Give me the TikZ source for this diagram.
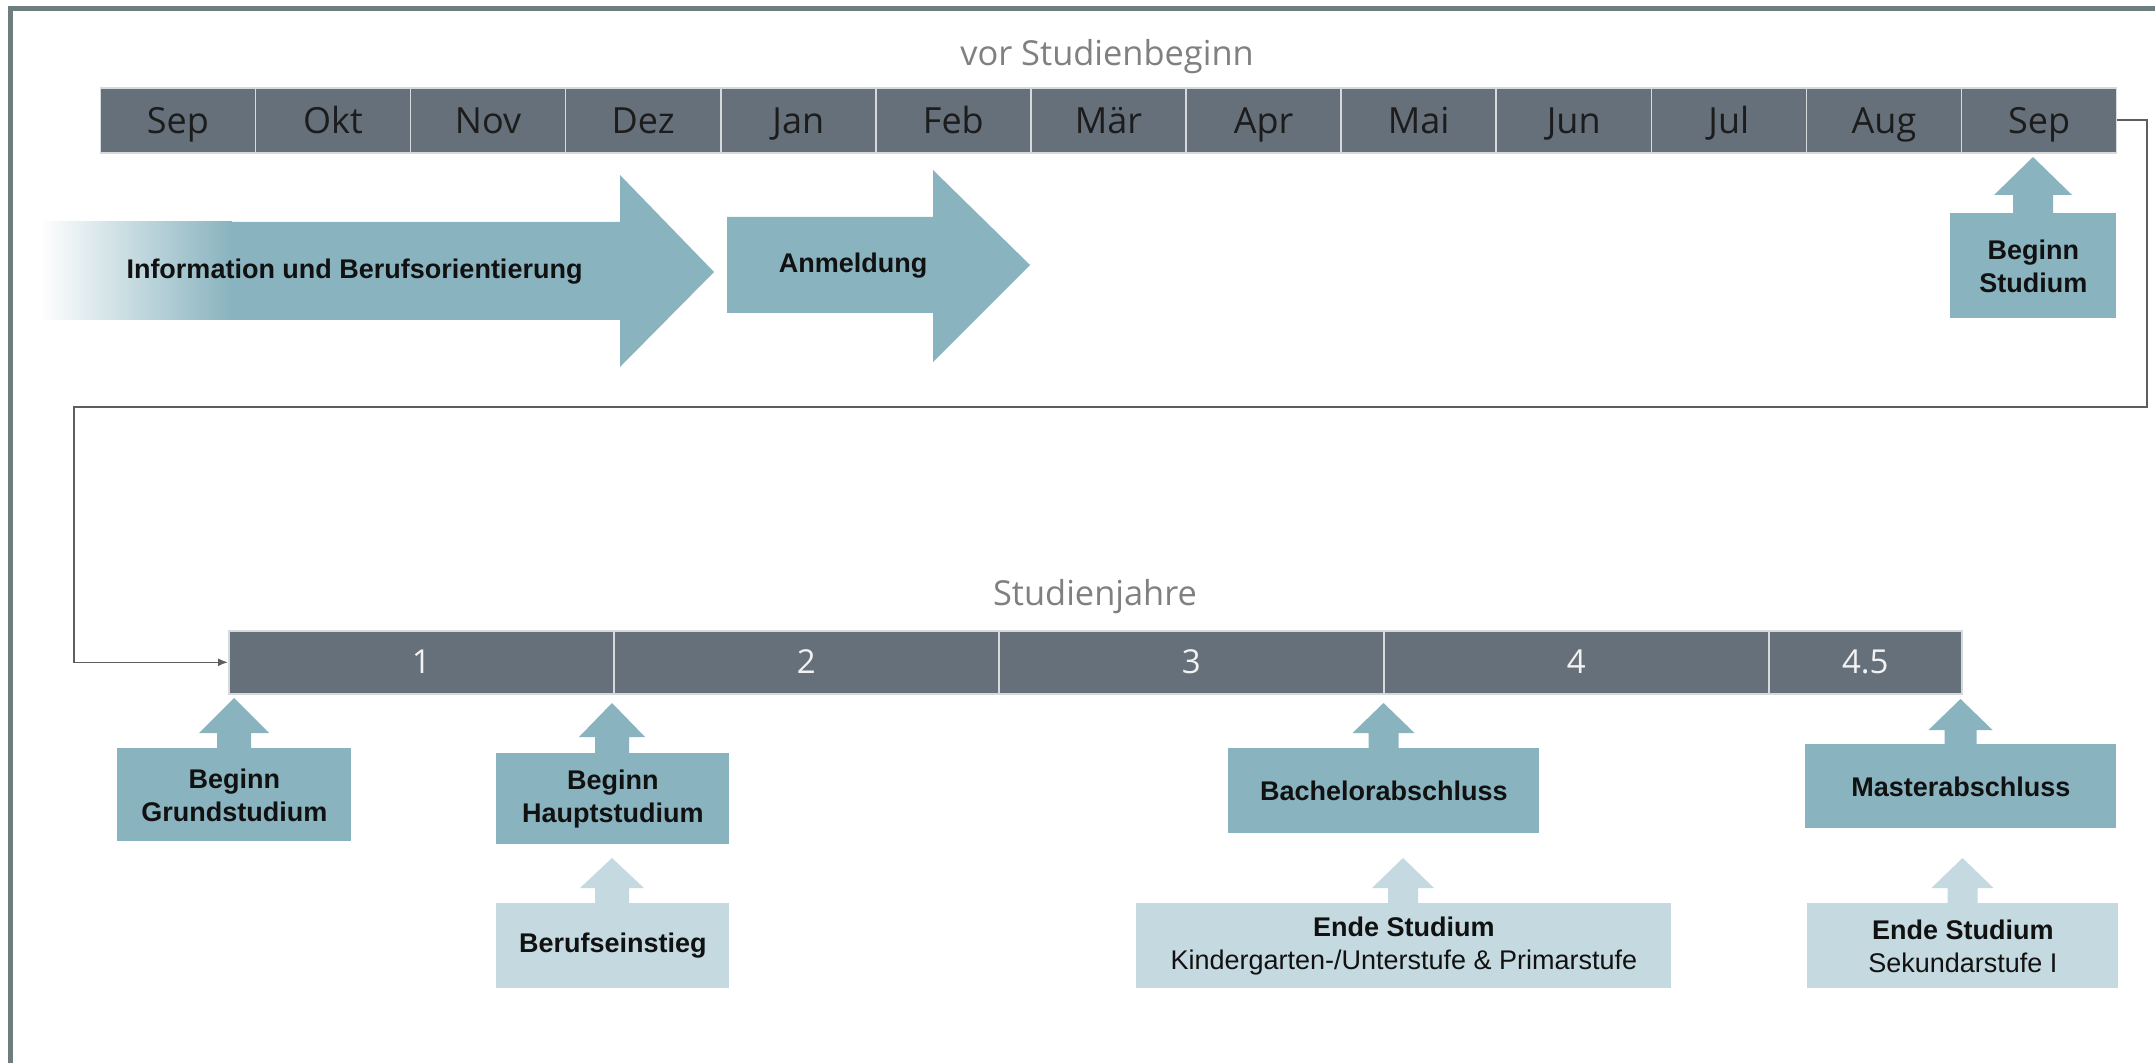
\documentclass[tikz,border=0pt]{standalone}
\usepackage{fontspec}
\setmainfont{Liberation Sans}
\newfontfamily\segoe{Open Sans}
\usetikzlibrary{calc,arrows.meta}
\definecolor{bargrey}{HTML}{66707A}
\definecolor{barline}{HTML}{D6DADD}
\definecolor{tealc}{HTML}{88B3BF}
\definecolor{lightteal}{HTML}{C5DAE0}
\definecolor{framec}{HTML}{6E7E7E}
\definecolor{titlegrey}{HTML}{808080}
\definecolor{monthtext}{HTML}{1C1C1C}
\definecolor{calltext}{HTML}{111111}
\definecolor{connc}{HTML}{5E5E5E}
\newcommand\UpArr[7]{% x, tip y, head base y, bottom y, half head, half stem, colour
  \fill[#7] ({#1-#5},#3) -- (#1,#2) -- ({#1+#5},#3) -- ({#1+#6},#3) -- ({#1+#6},#4)
    -- ({#1-#6},#4) -- ({#1-#6},#3) -- cycle;}
\begin{document}
\begin{tikzpicture}[x=0.5pt,y=-0.5pt,
  month/.style={fill=bargrey, draw=barline, line width=0.8pt, minimum width=77.55pt,
    minimum height=32.5pt, inner sep=0pt, anchor=north west,
    text height=12.8pt, text depth=0pt,
    font=\segoe\fontsize{18}{20}\selectfont, text=monthtext},
  year/.style={fill=bargrey, draw=barline, line width=0.8pt, minimum width=192.5pt,
    minimum height=31.5pt, inner sep=0pt, anchor=north west,
    text height=11.6pt, text depth=0pt,
    font=\segoe\fontsize{16.5}{19}\selectfont, text=white!95!black},
  title/.style={font=\segoe\fontsize{17.2}{19}\selectfont, text=titlegrey, inner sep=0pt},
  callout/.style={fill=tealc, inner sep=0pt, align=center, anchor=north west,
    font=\bfseries\fontsize{13.5}{16.5}\selectfont, text=calltext},
  lightcall/.style={callout, fill=lightteal},
  arrowtext/.style={font=\bfseries\fontsize{13.5}{16.5}\selectfont, text=calltext, inner sep=0pt},
  conn/.style={draw=connc, line width=0.8pt},
]
\useasboundingbox (0,0) rectangle (2155,1063);
\fill[white] (0,0) rectangle (2155,1063);
% frame (top and left edges visible)
\draw[framec, line width=2.5pt] (10,1070) -- (10,9) -- (2160,9);

% ---------- top: months ----------
\node[title] (t1) at (1107,57) {vor Studienbeginn};
\foreach \m [count=\i] in {Sep,Okt,Nov,Dez,Jan,Feb,Mär,Apr,Mai,Jun,Jul,Aug,Sep}
  \node[month] (m\i) at ({99.5+155.1*(\i-1)},87) {\m};

% Information arrow
\fill[tealc] (41,222) -- (620,222) -- (620,175) -- (714,272) -- (620,367) -- (620,320) -- (41,320) -- cycle;
\shade[left color=white, right color=tealc] (40,222) rectangle (232,320);
\node[arrowtext] (info) at (354.5,272) {Information und Berufsorientierung};

% Anmeldung arrow
\fill[tealc] (727,217) -- (933,217) -- (933,170) -- (1030,265) -- (933,362) -- (933,313) -- (727,313) -- cycle;
\node[arrowtext] (anm) at (853,266) {Anmeldung};

% Beginn Studium
\node[callout, minimum width=83pt, minimum height=52.5pt] (bst) at (1950,213) {Beginn\\Studium};
\UpArr{2033}{157}{195}{214}{39}{20}{tealc}

% ---------- connector ----------
\coordinate (c1) at (2147,407);
\coordinate (c2) at (74,407);

% ---------- bottom: years ----------
\node[title] (t2) at (1095,597) {Studienjahre};
\node[year] (y1) at (228,630) {1};
\node[year] (y2) at (613,630) {2};
\node[year] (y3) at (998,630) {3};
\node[year] (y4) at (1383,630) {4};
\node[year, minimum width=96.5pt] (y5) at (1768,630) {4.5};

\draw[conn, -{Latex[length=5pt,width=4pt]}] (m13.east) -| (c1) -- (c2) |- (y1.west);

% callouts
\node[callout, minimum width=117pt, minimum height=46.5pt] (bg) at (117,748) {Beginn\\Grundstudium};
\UpArr{234}{698}{733}{749}{35}{17}{tealc}

\node[callout, minimum width=116.5pt, minimum height=45.5pt] (bh) at (496,753) {Beginn\\Hauptstudium};
\UpArr{612}{703}{737}{754}{33}{17}{tealc}

\node[lightcall, minimum width=116.5pt, minimum height=42.5pt] (be) at (496,903) {Berufseinstieg};
\UpArr{612}{858}{888}{904}{32}{17}{lightteal}

\node[callout, minimum width=155.5pt, minimum height=42.5pt] (ba) at (1228,748) {Bachelorabschluss};
\UpArr{1383.5}{703}{733}{749}{31}{15}{tealc}

\node[lightcall, minimum width=267.5pt, minimum height=42.5pt] (ek) at (1136,903)
  {Ende Studium\\\mdseries Kindergarten-/Unterstufe \& Primarstufe};
\UpArr{1403}{858}{888}{904}{31}{15}{lightteal}

\node[callout, minimum width=155.5pt, minimum height=42pt] (ma) at (1805,744) {Masterabschluss};
\UpArr{1960.5}{699}{730}{745}{32}{16}{tealc}

\node[lightcall, minimum width=155.5pt, minimum height=42.5pt] (es) at (1807,903)
  {Ende Studium\\\mdseries Sekundarstufe I};
\UpArr{1962.5}{858}{888}{904}{31}{15}{lightteal}
\end{tikzpicture}
\end{document}
